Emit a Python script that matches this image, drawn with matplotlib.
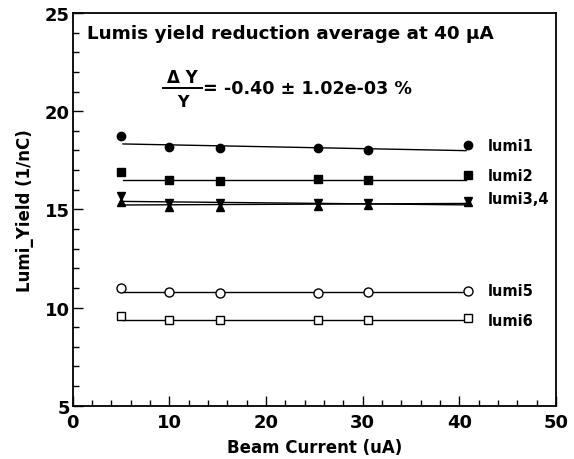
import matplotlib
matplotlib.use("Agg")
import matplotlib.pyplot as plt
import numpy as np
from matplotlib.ticker import MultipleLocator
from matplotlib.lines import Line2D

plt.rcParams['font.family'] = ['DejaVu Sans']
plt.rcParams['font.weight'] = 'bold'

current = [5.0, 10.0, 15.2, 25.4, 30.5, 40.9]
lumi1 = [18.72, 18.19, 18.14, 18.11, 18.04, 18.26]
lumi2 = [16.92, 16.49, 16.46, 16.53, 16.51, 16.76]
lumi3 = [15.67, 15.32, 15.32, 15.33, 15.31, 15.42]
lumi4 = [15.39, 15.12, 15.12, 15.18, 15.20, 15.37]
lumi5 = [11.01, 10.79, 10.75, 10.75, 10.79, 10.85]
lumi6 = [9.55, 9.35, 9.35, 9.36, 9.38, 9.48]

# fitted lines (intercept, slope)
fit_lumi1 = (18.38, -0.0096)
fit_lumi2 = (16.50, 0.0)
fit_lumi3 = (15.43, -0.0050)
fit_lumi4 = (15.21, 0.0022)
fit_lumi5 = (10.79, 0.0)
fit_lumi6 = (9.36, 0.0)

labels = ['lumi1', 'lumi2', 'lumi3,4', 'lumi5', 'lumi6']
label_y = [18.27, 16.72, 15.55, 10.88, 9.36]

title = 'Lumis yield reduction average at 40 \u03bcA'
frac_num = '\u0394 Y'
frac_den = 'Y'
result = '= -0.40 \u00b1 1.02e-03 %'

fig = plt.figure(figsize=(5.74, 4.6), dpi=100)
ax = fig.add_axes([0.1267, 0.1159, 0.8419, 0.8537])

series = [
    (lumi1, fit_lumi1, dict(marker='o', mfc='black', mec='black', ms=6.0)),
    (lumi2, fit_lumi2, dict(marker='s', mfc='black', mec='black', ms=5.5)),
    (lumi3, fit_lumi3, dict(marker='v', mfc='black', mec='black', ms=6.0)),
    (lumi4, fit_lumi4, dict(marker='^', mfc='black', mec='black', ms=6.0)),
    (lumi5, fit_lumi5, dict(marker='o', mfc='white', mec='black', ms=6.5, mew=1.0)),
    (lumi6, fit_lumi6, dict(marker='s', mfc='white', mec='black', ms=6.0, mew=1.0)),
]
xline = np.array([current[0] + 0.2, current[-1] - 0.2])
for ys, (b, m), style in series:
    ax.plot(current, ys, linestyle='none', zorder=3, **style)
    ax.plot(xline, b + m * xline, color='black', lw=1.0, zorder=2)

for lab, ly in zip(labels, label_y):
    ax.text(42.9, ly, lab, fontsize=10.5, fontweight='bold', va='center', ha='left')

ax.set_xlim(0, 50)
ax.set_ylim(5, 25)
ax.xaxis.set_major_locator(MultipleLocator(10))
ax.xaxis.set_minor_locator(MultipleLocator(2))
ax.yaxis.set_major_locator(MultipleLocator(5))
ax.yaxis.set_minor_locator(MultipleLocator(1))
ax.tick_params(which='both', direction='in', top=False, right=False, width=1.0)
ax.tick_params(which='major', length=7, labelsize=13)
ax.tick_params(axis='x', which='major', pad=5.5)
ax.tick_params(axis='y', which='major', pad=2)
ax.tick_params(which='minor', length=4)
for lab in ax.get_xticklabels() + ax.get_yticklabels():
    lab.set_fontweight('bold')
for s in ax.spines.values():
    s.set_linewidth(1.3)

ax.set_xlabel('Beam Current (uA)', fontsize=12, fontweight='bold', labelpad=5)
ax.set_ylabel('Lumi_Yield (1/nC)', fontsize=12, fontweight='bold', labelpad=8)

ax.text(0.029, 0.9356, title, transform=ax.transAxes, fontsize=13.2,
        fontweight='bold', va='baseline', ha='left')
# fraction Delta Y / Y
ax.text(0.2272, 0.8230, frac_num, transform=ax.transAxes, fontsize=12,
        fontweight='bold', va='baseline', ha='center')
ax.text(0.2272, 0.7640, frac_den, transform=ax.transAxes, fontsize=11.5,
        fontweight='bold', va='baseline', ha='center')
ax.add_line(Line2D([0.1875, 0.2669], [0.8090, 0.8090], transform=ax.transAxes,
                   color='black', lw=1.4))
ax.text(0.2702, 0.7955, result, transform=ax.transAxes, fontsize=12.6,
        fontweight='bold', va='baseline', ha='left')

fig.savefig('out.png', dpi=100)
